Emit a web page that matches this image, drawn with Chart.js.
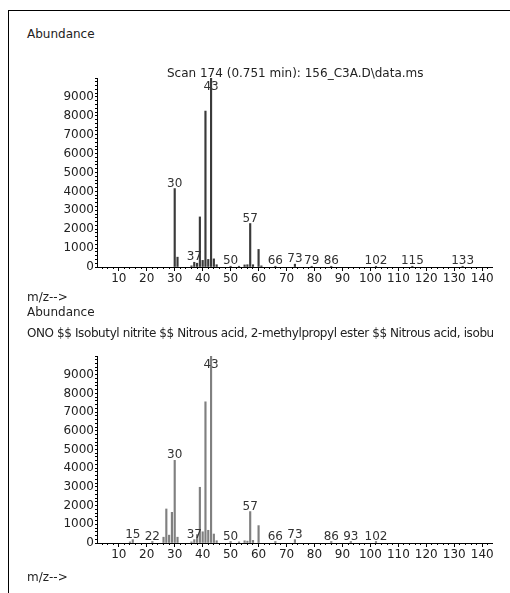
<!doctype html>
<html>
  <head>
    <meta charset="utf-8">
    <title>Mass spectrum, scan 174</title>
    <style>
      html, body {
        margin: 0;
        padding: 0;
        background: #fff;
      }
      body {
        width: 510px;
        height: 593px;
        position: relative;
        overflow: hidden;
        font-family: "DejaVu Sans", sans-serif;
        font-size: 12px;
        color: #222;
      }
      .frame {
        position: absolute;
        left: 8px;
        top: 10px;
        width: 700px;
        height: 800px;
        border-left: 1px solid #000;
        border-top: 1px solid #000;
      }
      .box {
        position: absolute;
        left: 0;
        width: 510px;
        height: 235px;
      }
      .txt {
        position: absolute;
        white-space: nowrap;
        line-height: 14px;
      }
    </style>
  </head>
  <body>
    <div class="frame"></div>
    <div class="box" style="top:60px"><canvas id="topChart" width="510" height="235"></canvas></div>
    <div class="box" style="top:340px"><canvas id="refChart" width="510" height="235"></canvas></div>

    <div class="txt" style="left:27px;top:27px">Abundance</div>
    <div class="txt" style="left:167px;top:66px">Scan 174 (0.751 min): 156_C3A.D\data.ms</div>
    <div class="txt" style="left:27px;top:290px">m/z--&gt;</div>
    <div class="txt" style="left:27px;top:305px">Abundance</div>
    <div class="txt" style="left:27px;top:326px;width:466px;overflow:hidden;letter-spacing:-0.4px">ONO $$ Isobutyl nitrite $$ Nitrous acid, 2-methylpropyl ester $$ Nitrous acid, isobutyl ester</div>
    <div class="txt" style="left:27px;top:570px">m/z--&gt;</div>

    <script src="https://cdn.jsdelivr.net/npm/chart.js@4.4.1/dist/chart.umd.min.js"></script>
    <script>
      // measured scan
      var topMz = [30, 31, 36, 37, 38, 39, 40, 41, 42, 43, 44, 45, 50, 53, 55, 56, 57, 58, 60, 61, 66, 73, 79, 86, 102, 115, 133]
      var topAbundance = [4150, 520, 60, 250, 200, 2650, 350, 8250, 400, 10000, 430, 120, 40, 40, 110, 120, 2300, 120, 930, 60, 40, 150, 40, 40, 40, 40, 40]
      var topPeakLabels = [30, 37, 43, 50, 57, 66, 73, 79, 86, 102, 115, 133]

      // library (reference) spectrum
      var refMz = [14, 15, 22, 26, 27, 28, 29, 30, 31, 36, 37, 38, 39, 40, 41, 42, 43, 44, 45, 50, 53, 55, 56, 57, 58, 60, 66, 73, 86, 93, 102]
      var refAbundance = [60, 180, 80, 310, 1820, 420, 1640, 4420, 310, 60, 180, 450, 2980, 600, 7550, 680, 10000, 480, 120, 80, 60, 120, 100, 1680, 140, 930, 80, 180, 80, 80, 80]
      var refPeakLabels = [15, 22, 30, 37, 43, 50, 57, 66, 73, 86, 93, 102]

      // axes
      var xTickLabels = [10, 20, 30, 40, 50, 60, 70, 80, 90, 100, 110, 120, 130, 140]
      var yTickLabels = [0, 1000, 2000, 3000, 4000, 5000, 6000, 7000, 8000, 9000]
      var X_MIN = 2.2, X_MAX = 143.5, X_MINOR = 2
      var Y_MAX = 10000, Y_MINOR = 200

      var FONT = { family: 'DejaVu Sans', size: 12 }

      var stepTicks = function(from, to, step) {
        var out = []
        for (var v = Math.ceil(from / step) * step; v <= to; v += step) out.push({ value: v })
        return out
      }

      var peakLabelPlugin = function(labels, mz) {
        return {
          id: 'peakLabels',
          afterDatasetsDraw: function(chart) {
            var ctx = chart.ctx
            var bars = chart.getDatasetMeta(0).data
            var area = chart.chartArea
            ctx.save()
            ctx.font = '12px "DejaVu Sans"'
            ctx.fillStyle = '#333'
            ctx.textAlign = 'center'
            ctx.textBaseline = 'alphabetic'
            labels.forEach(function(m) {
              var bar = bars[mz.indexOf(m)]
              if (!bar) return
              var y = Math.max(bar.y - 2, area.top + 12)
              ctx.fillText(String(m), bar.x, y)
            })
            ctx.restore()
          }
        }
      }

      var makeChart = function(id, mz, abundance, labels, color, thickness, padTop, xAxisHeight) {
        var points = mz.map(function(m, i) { return { x: m, y: abundance[i] } })
        return new Chart(document.getElementById(id), {
          type: 'bar',
          data: {
            datasets: [{
              data: points,
              xAxisID: 'x',
              yAxisID: 'y',
              backgroundColor: color,
              borderWidth: 0,
              barThickness: thickness
            }]
          },
          options: {
            responsive: false,
            animation: false,
            layout: { padding: { top: padTop, right: 18, left: 0, bottom: 0 } },
            plugins: { legend: { display: false }, tooltip: { enabled: false } },
            scales: {
              x: {
                type: 'linear',
                min: X_MIN,
                max: X_MAX,
                offset: false,
                grid: { drawOnChartArea: false, tickLength: 4, tickColor: '#000', offset: false },
                border: { color: '#000', width: 1 },
                ticks: { autoSkip: false, maxRotation: 0, padding: 1, color: '#222', font: FONT },
                afterBuildTicks: function(s) { s.ticks = xTickLabels.map(function(v) { return { value: v } }) },
                afterFit: function(s) { s.height = xAxisHeight }
              },
              xMinor: {
                type: 'linear',
                axis: 'x',
                position: { y: 0 },
                min: X_MIN,
                max: X_MAX,
                offset: false,
                grid: { drawOnChartArea: false, tickLength: 2, tickColor: '#000', offset: false },
                border: { display: false },
                ticks: { display: false },
                afterBuildTicks: function(s) { s.ticks = stepTicks(X_MIN, X_MAX, X_MINOR) }
              },
              y: {
                type: 'linear',
                min: 0,
                max: Y_MAX,
                grid: { drawOnChartArea: false, tickLength: 2, tickColor: '#000' },
                border: { color: '#000', width: 1 },
                ticks: {
                  autoSkip: false,
                  padding: 1,
                  color: '#222',
                  font: FONT,
                  callback: function(v) { return yTickLabels.indexOf(v) >= 0 ? String(v) : '' }
                },
                afterBuildTicks: function(s) { s.ticks = stepTicks(0, Y_MAX, Y_MINOR) },
                afterFit: function(s) { s.width = 97 }
              }
            }
          },
          plugins: [peakLabelPlugin(labels, mz)]
        })
      }

      makeChart('topChart', topMz, topAbundance, topPeakLabels, '#3a3a3a', 1.5, 18, 28)
      makeChart('refChart', refMz, refAbundance, refPeakLabels, '#808080', 1.5, 16, 32)
    </script>
  </body>
</html>
